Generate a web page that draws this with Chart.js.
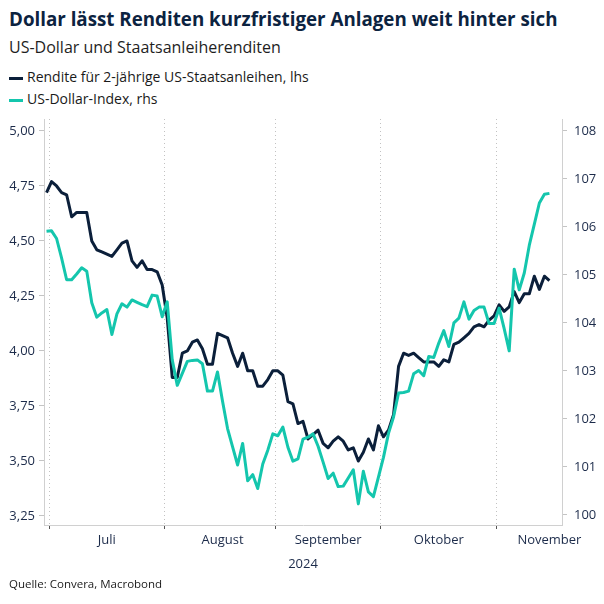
<!DOCTYPE html>
<html>
<head>
<meta charset="utf-8">
<script src="https://cdn.jsdelivr.net/npm/chart.js@4.4.1/dist/chart.umd.min.js"></script>
<style>
  body { margin: 0; width: 604px; height: 604px; background: #fff; position: relative; overflow: hidden; font-family: 'Open Sans', sans-serif; }
  .txt { position: absolute; white-space: nowrap; line-height: 1; }
  #title { left: 9px; top: 10px; font-size: 18.75px; font-weight: 700; color: #0c2340; }
  #subtitle { left: 9px; top: 39px; font-size: 16px; color: #1e1e1e; }
  .leg { left: 27px; font-size: 14px; color: #1a1a1a; }
  .mark { position: absolute; left: 9px; width: 14px; height: 3px; }
  #source { left: 9px; top: 578px; font-size: 11.5px; color: #1a1a1a; }
  #wrap { position: absolute; left: 0; top: 0; width: 604px; height: 604px; }
</style>
</head>
<body>
<div id="title" class="txt">Dollar lässt Renditen kurzfristiger Anlagen weit hinter sich</div>
<div id="subtitle" class="txt">US-Dollar und Staatsanleiherenditen</div>
<div class="mark" style="top:77px;background:#0b1f3a"></div>
<div class="txt leg" style="top:70px">Rendite für 2-jährige US-Staatsanleihen, lhs</div>
<div class="mark" style="top:99px;background:#14c6ad"></div>
<div class="txt leg" style="top:92px">US-Dollar-Index, rhs</div>
<div id="wrap"><canvas id="chart" width="604" height="604"></canvas></div>
<div id="source" class="txt">Quelle: Convera, Macrobond</div>
<script>
const dates = ('2024-06-28 ' +
  '2024-07-01 2024-07-02 2024-07-03 2024-07-04 2024-07-05 2024-07-08 2024-07-09 2024-07-10 2024-07-11 2024-07-12 ' +
  '2024-07-15 2024-07-16 2024-07-17 2024-07-18 2024-07-19 2024-07-22 2024-07-23 2024-07-24 2024-07-25 2024-07-26 ' +
  '2024-07-29 2024-07-30 2024-07-31 ' +
  '2024-08-01 2024-08-02 2024-08-05 2024-08-06 2024-08-07 2024-08-08 2024-08-09 2024-08-12 2024-08-13 2024-08-14 ' +
  '2024-08-15 2024-08-16 2024-08-19 2024-08-20 2024-08-21 2024-08-22 2024-08-23 2024-08-26 2024-08-27 2024-08-28 ' +
  '2024-08-29 2024-08-30 ' +
  '2024-09-02 2024-09-03 2024-09-04 2024-09-05 2024-09-06 2024-09-09 2024-09-10 2024-09-11 2024-09-12 2024-09-13 ' +
  '2024-09-16 2024-09-17 2024-09-18 2024-09-19 2024-09-20 2024-09-23 2024-09-24 2024-09-25 2024-09-26 2024-09-27 ' +
  '2024-09-30 ' +
  '2024-10-01 2024-10-02 2024-10-03 2024-10-04 2024-10-07 2024-10-08 2024-10-09 2024-10-10 2024-10-11 2024-10-14 ' +
  '2024-10-15 2024-10-16 2024-10-17 2024-10-18 2024-10-21 2024-10-22 2024-10-23 2024-10-24 2024-10-25 2024-10-28 ' +
  '2024-10-29 2024-10-30 2024-10-31 ' +
  '2024-11-01 2024-11-04 2024-11-05 2024-11-06 2024-11-07 2024-11-08 2024-11-11 2024-11-12 2024-11-13 2024-11-14 ' +
  '2024-11-15').split(' ');

// Rendite 2-jährige US-Staatsanleihen (lhs, %)
const yieldValues = [
  4.72, 4.77, 4.75, 4.72, 4.71, 4.61, 4.63, 4.63, 4.63, 4.50,
  4.46, 4.45, 4.44, 4.43, 4.46, 4.49, 4.50, 4.41, 4.38, 4.41,
  4.37, 4.37, 4.36, 4.30, 4.15, 3.88, 3.88, 3.99, 4.00, 4.04,
  4.05, 4.01, 3.94, 3.94, 4.08, 4.07, 4.06, 3.99, 3.93, 3.99,
  3.91, 3.91, 3.84, 3.84, 3.87, 3.91, 3.91, 3.89, 3.77, 3.76,
  3.67, 3.68, 3.60, 3.62, 3.64, 3.58, 3.56, 3.59, 3.61, 3.59,
  3.55, 3.56, 3.50, 3.54, 3.60, 3.55, 3.66, 3.61, 3.64, 3.71,
  3.93, 3.99, 3.98, 3.99, 3.97, 3.95, 3.95, 3.95, 3.93, 3.96,
  3.95, 4.03, 4.04, 4.06, 4.08, 4.11, 4.12, 4.11, 4.14, 4.16,
  4.21, 4.18, 4.20, 4.27, 4.22, 4.26, 4.26, 4.34, 4.28, 4.34,
  4.32
];

// US-Dollar-Index (rhs)
const dollarValues = [
  105.91, 105.92, 105.76, 105.35, 104.90, 104.90, 105.02, 105.15, 105.08, 104.42,
  104.12, 104.21, 104.28, 103.76, 104.19, 104.40, 104.33, 104.48, 104.43, 104.38,
  104.34, 104.58, 104.56, 104.13, 104.44, 103.23, 102.70, 102.95, 103.20, 103.22,
  103.23, 103.15, 102.58, 102.58, 102.98, 102.37, 101.80, 101.42, 101.04, 101.49,
  100.71, 100.84, 100.55, 101.06, 101.35, 101.69, 101.65, 101.83, 101.41, 101.12,
  101.17, 101.58, 101.62, 101.69, 101.43, 101.10, 100.76, 100.87, 100.59, 100.60,
  100.77, 100.94, 100.23, 100.91, 100.48, 100.38, 100.79, 101.20, 101.70, 102.04,
  102.54, 102.55, 102.58, 102.94, 103.01, 102.90, 103.30, 103.28, 103.58, 103.84,
  103.51, 104.00, 104.10, 104.44, 104.08, 104.26, 104.33, 104.33, 103.99, 103.99,
  104.31, 103.88, 103.42, 105.12, 104.69, 105.04, 105.62, 106.06, 106.50, 106.68,
  106.70
];

const monthNames = ['Juli', 'August', 'September', 'Oktober', 'November'];
const monthLabelAt = [12, 35, 56, 78, 100];
const leftTicks = [3.25, 3.5, 3.75, 4.0, 4.25, 4.5, 4.75, 5.0];
const rightTicks = [100, 101, 102, 103, 104, 105, 106, 107, 108];

const NAVY = '#0b1f3a';
const TEAL = '#14c6ad';
const TICK_TEXT = '#1c2b4a';
const FONT = 'Open Sans';

// first business day of each month -> month boundary grid line
const monthStarts = dates.map((d, i) => (i > 0 && d.slice(5, 7) !== dates[i - 1].slice(5, 7) ? i : -1)).filter((i) => i >= 0);

// two empty slots keep the right margin the reference has after the last day
const labels = dates.concat(['', '']);

new Chart(document.getElementById('chart'), {
  type: 'line',
  data: {
    labels: labels,
    datasets: [
      {
        label: 'US-Dollar-Index, rhs',
        data: dollarValues,
        yAxisID: 'y1',
        borderColor: TEAL,
        borderWidth: 3,
        pointRadius: 0,
        tension: 0,
        borderJoinStyle: 'round',
        order: 1,
      },
      {
        label: 'Rendite für 2-jährige US-Staatsanleihen, lhs',
        data: yieldValues,
        yAxisID: 'y',
        borderColor: NAVY,
        borderWidth: 3,
        pointRadius: 0,
        tension: 0,
        borderJoinStyle: 'round',
        order: 2,
      },
    ],
  },
  options: {
    responsive: false,
    animation: false,
    layout: { padding: { top: 119, bottom: 32, left: 0, right: 0 } },
    plugins: { legend: { display: false }, tooltip: { enabled: false } },
    scales: {
      x: {
        offset: true,
        afterFit: (s) => { s.height = 47; },
        grid: {
          offset: true,
          color: (c) => (monthStarts.includes(c.index) ? '#c2c2c2' : 'rgba(0,0,0,0)'),
          tickColor: (c) => (monthStarts.includes(c.index) ? '#555' : 'rgba(0,0,0,0)'),
          tickLength: 4,
          lineWidth: 1,
        },
        border: { display: true, color: '#d0d0d0', dash: [1, 3] },
        ticks: {
          autoSkip: false,
          maxRotation: 0,
          minRotation: 0,
          padding: 3,
          color: TICK_TEXT,
          font: { family: FONT, size: 13 },
          callback: (v, i) => {
            const k = monthLabelAt.indexOf(i);
            return k >= 0 ? monthNames[k] : '';
          },
        },
        title: { display: true, text: '2024', color: TICK_TEXT, font: { family: FONT, size: 13 }, padding: 0 },
      },
      y: {
        position: 'left',
        min: 3.209,
        max: 5.0545,
        afterFit: (s) => { s.width = 44; },
        afterBuildTicks: (s) => { s.ticks = leftTicks.map((v) => ({ value: v })); },
        grid: { drawOnChartArea: false, tickLength: 5, color: '#c4c4c4' },
        border: { color: '#d0d0d0' },
        ticks: {
          padding: 4,
          color: TICK_TEXT,
          font: { family: FONT, size: 13 },
          callback: (v) => Number(v).toFixed(2).replace('.', ','),
        },
      },
      y1: {
        position: 'right',
        min: 99.79,
        max: 108.25,
        afterFit: (s) => { s.width = 42; },
        afterBuildTicks: (s) => { s.ticks = rightTicks.map((v) => ({ value: v })); },
        grid: { drawOnChartArea: false, tickLength: 5, color: '#c4c4c4' },
        border: { color: '#d0d0d0' },
        ticks: {
          padding: 7,
          color: TICK_TEXT,
          font: { family: FONT, size: 13 },
          callback: (v) => String(v),
        },
      },
    },
  },
});
</script>
</body>
</html>
